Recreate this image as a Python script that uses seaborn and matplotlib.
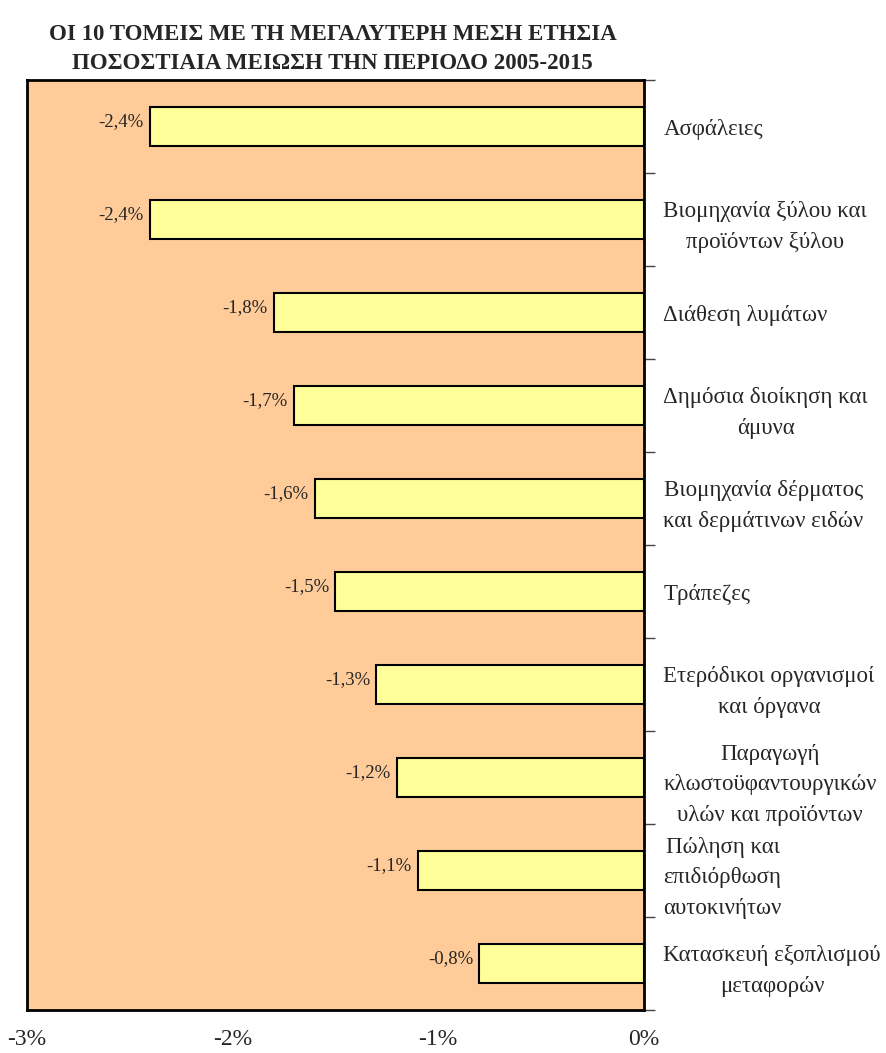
"""
horizontal bar chart: top 10 sectors by average annual percentage decrease 2005-2015
"""

import matplotlib
matplotlib.use("Agg")
import matplotlib.pyplot as plt
import seaborn as sns
import pandas as pd
import numpy as np

categories = [
    "Ασφάλειες",
    "Βιομηχανία ξύλου και\nπροϊόντων ξύλου",
    "Διάθεση λυμάτων",
    "Δημόσια διοίκηση και\nάμυνα",
    "Βιομηχανία δέρματος\nκαι δερμάτινων ειδών",
    "Τράπεζες",
    "Ετερόδικοι οργανισμοί\nκαι όργανα",
    "Παραγωγή\nκλωστοϋφαντουργικών\nυλών και προϊόντων",
    "Πώληση και\nεπιδιόρθωση\nαυτοκινήτων",
    "Κατασκευή εξοπλισμού\nμεταφορών",
]
values = [-2.4, -2.4, -1.8, -1.7, -1.6, -1.5, -1.3, -1.2, -1.1, -0.8]
value_labels = ["-2,4%", "-2,4%", "-1,8%", "-1,7%", "-1,6%", "-1,5%", "-1,3%", "-1,2%", "-1,1%", "-0,8%"]
x_ticks = [-3, -2, -1, 0]
x_tick_labels = ["-3%", "-2%", "-1%", "0%"]
title = "ΟΙ 10 ΤΟΜΕΙΣ ΜΕ ΤΗ ΜΕΓΑΛΥΤΕΡΗ ΜΕΣΗ ΕΤΗΣΙΑ\nΠΟΣΟΣΤΙΑΙΑ ΜΕΙΩΣΗ ΤΗΝ ΠΕΡΙΟΔΟ 2005-2015"

df = pd.DataFrame({"sector": categories, "change": values})

sns.set_style("white")
plt.rcParams["font.family"] = ["Liberation Serif", "DejaVu Serif"]

fig = plt.figure(figsize=(8.87, 10.53), dpi=100)
ax = fig.add_axes([0.030, 0.0408, 0.696, 0.8832])
ax.set_facecolor("#FFCC99")

sns.barplot(data=df, y="sector", x="change", orient="h", color="#FFFF99",
            edgecolor="black", linewidth=1.5, width=0.41, saturation=1, ax=ax)

ax.set_xlim(-3, 0)
ax.set_ylim(len(categories) - 0.5, -0.5)
ax.set_xticks(x_ticks)
ax.set_xticklabels(x_tick_labels, fontsize=17)
ax.tick_params(axis="x", length=0, pad=14)
ax.set_xlabel("")
ax.set_ylabel("")

# category labels on the right, tick marks between categories
ax.yaxis.tick_right()
ax.tick_params(axis="y", which="major", length=0, pad=14)
for lbl in ax.get_yticklabels():
    lbl.set_fontsize(16.5)
    lbl.set_horizontalalignment("left")
    lbl.set_multialignment("center")
    lbl.set_linespacing(1.6)
ax.set_yticks(np.arange(len(categories) + 1) - 0.5, minor=True)
ax.tick_params(axis="y", which="minor", right=True, left=False, length=8, width=1, color="#444444")

for spine in ax.spines.values():
    spine.set_visible(True)
    spine.set_color("black")
    spine.set_linewidth(2)

for i, (v, lab) in enumerate(zip(values, value_labels)):
    ax.text(v - 0.03, i - 0.05, lab, ha="right", va="center", fontsize=13.5)

fig.text(0.375, 1 - 49 / 1053, title, ha="center", va="center", fontsize=16.5,
         fontweight="bold", linespacing=1.45)

fig.savefig("out.png", dpi=100)
plt.close(fig)
